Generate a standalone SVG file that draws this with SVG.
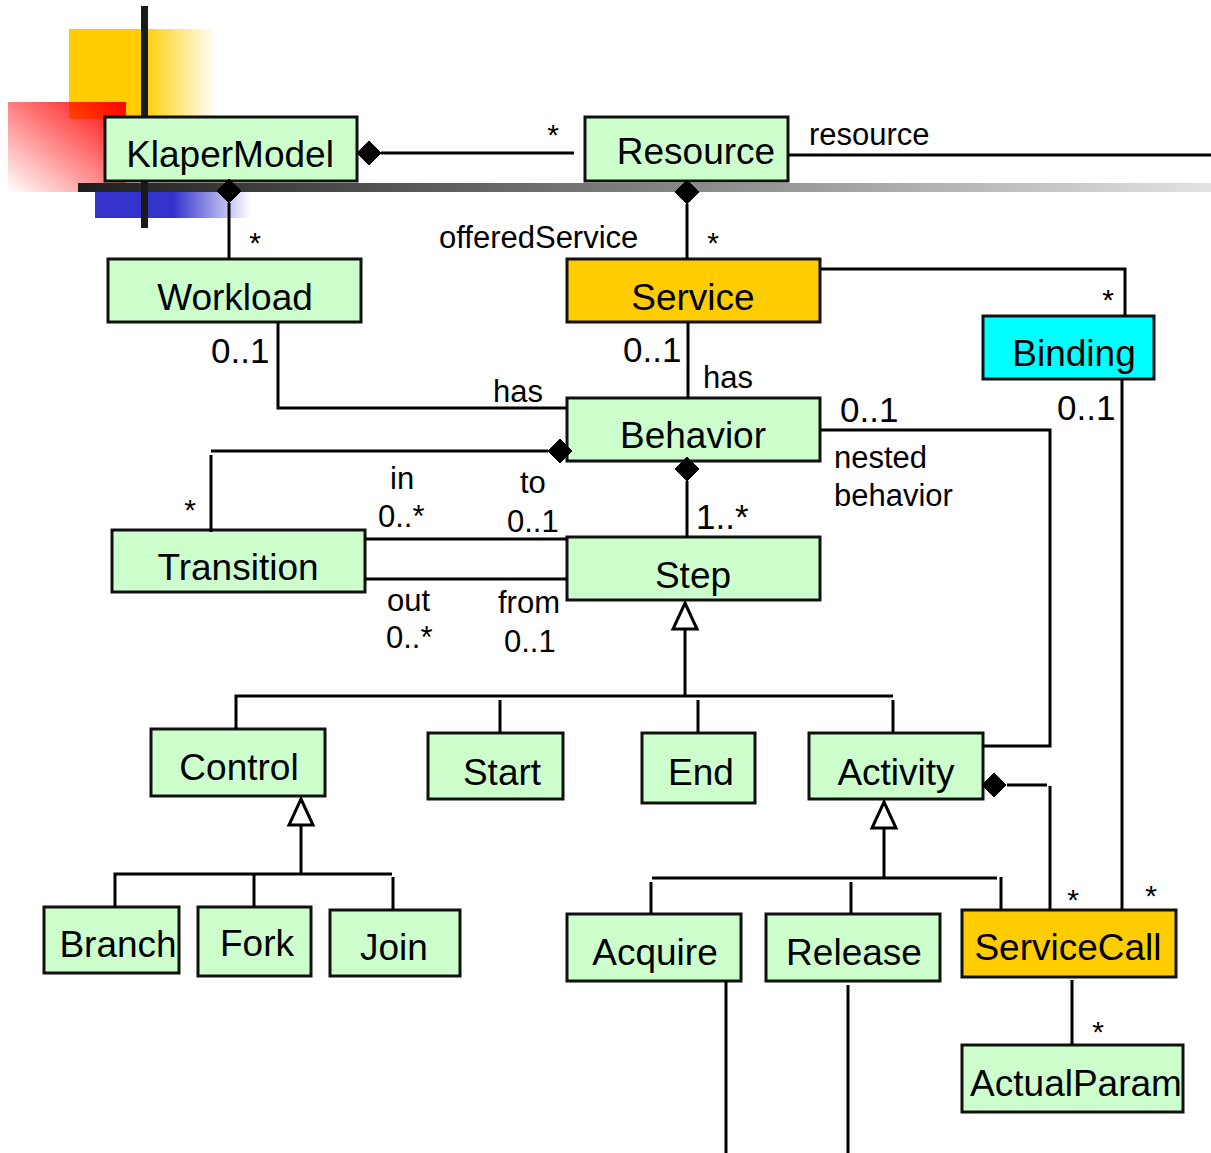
<svg xmlns="http://www.w3.org/2000/svg" width="1211" height="1153" viewBox="0 0 1211 1153">
<defs>
<linearGradient id="gYellow" x1="0" y1="0" x2="1" y2="0">
<stop offset="0" stop-color="#FFCC00"/><stop offset="0.5" stop-color="#FFCC00"/><stop offset="1" stop-color="#FFCC00" stop-opacity="0"/>
</linearGradient>
<linearGradient id="gRed" x1="1" y1="0" x2="0" y2="1">
<stop offset="0" stop-color="#FF0000"/><stop offset="1" stop-color="#FF0000" stop-opacity="0"/>
</linearGradient>
<linearGradient id="gBlue" x1="0" y1="0" x2="1" y2="0">
<stop offset="0" stop-color="#3333CC"/><stop offset="0.5" stop-color="#3333CC"/><stop offset="1" stop-color="#3333CC" stop-opacity="0"/>
</linearGradient>
<linearGradient id="gBar" x1="0" y1="0" x2="1" y2="0">
<stop offset="0" stop-color="#1e1e1e"/><stop offset="1" stop-color="#e2e2e2"/>
</linearGradient>
</defs>
<style>
.n rect{fill:#CCFFCC;stroke:#111;stroke-width:3}
.n.o rect{fill:#FFCC00}
.n.c rect{fill:#00FFFF}
.n text{font-family:"Liberation Sans",Arial,sans-serif;font-size:37px;text-anchor:middle;fill:#000}
.e path,.e line{fill:none;stroke:#000;stroke-width:3}
.e .d{fill:#000;stroke:#000;stroke-width:1}
.e .t{fill:#fff;stroke:#000;stroke-width:3}
.l{font-family:"Liberation Sans",Arial,sans-serif;font-size:31px;fill:#000}
.m{font-family:"Liberation Sans",Arial,sans-serif;font-size:35px;fill:#000}
.s{font-family:"Liberation Sans",Arial,sans-serif;font-size:30px;fill:#000;text-anchor:middle}
</style>
<rect width="1211" height="1153" fill="#fff"/>
<g id="decoration">
<rect x="69" y="29" width="147" height="90" fill="url(#gYellow)"/>
<rect x="8" y="102" width="118" height="90" fill="url(#gRed)"/>
<rect x="95" y="183" width="156" height="35" fill="url(#gBlue)"/>
<rect x="78" y="183" width="1133" height="9" fill="url(#gBar)"/>
<rect x="141" y="6" width="7" height="222" fill="#1a1a1a"/>
</g>
<g id="nodes">
<g id="KlaperModel" class="n"><rect x="105" y="117" width="252" height="64"/><text x="230" y="167">KlaperModel</text></g>
<g id="Resource" class="n"><rect x="585" y="117" width="203" height="64"/><text x="696" y="164">Resource</text></g>
<g id="Workload" class="n"><rect x="108" y="259" width="253" height="63"/><text x="235" y="310">Workload</text></g>
<g id="Service" class="n o"><rect x="567" y="259" width="253" height="63"/><text x="693" y="310">Service</text></g>
<g id="Binding" class="n c"><rect x="983" y="316" width="171" height="63"/><text x="1074" y="366">Binding</text></g>
<g id="Behavior" class="n"><rect x="567" y="398" width="253" height="63"/><text x="693" y="448">Behavior</text></g>
<g id="Transition" class="n"><rect x="112" y="530" width="253" height="62"/><text x="238" y="580">Transition</text></g>
<g id="Step" class="n"><rect x="567" y="537" width="253" height="63"/><text x="693" y="588">Step</text></g>
<g id="Control" class="n"><rect x="151" y="729" width="174" height="67"/><text x="239" y="780">Control</text></g>
<g id="Start" class="n"><rect x="428" y="733" width="135" height="66"/><text x="502" y="785">Start</text></g>
<g id="End" class="n"><rect x="642" y="733" width="113" height="70"/><text x="701" y="785">End</text></g>
<g id="Activity" class="n"><rect x="809" y="733" width="174" height="66"/><text x="896" y="785">Activity</text></g>
<g id="Branch" class="n"><rect x="44" y="907" width="135" height="66"/><text x="118" y="957">Branch</text></g>
<g id="Fork" class="n"><rect x="198" y="907" width="113" height="69"/><text x="257" y="956">Fork</text></g>
<g id="Join" class="n"><rect x="330" y="910" width="130" height="66"/><text x="394" y="960">Join</text></g>
<g id="Acquire" class="n"><rect x="567" y="914" width="174" height="67"/><text x="655" y="965">Acquire</text></g>
<g id="Release" class="n"><rect x="766" y="914" width="174" height="67"/><text x="854" y="965">Release</text></g>
<g id="ServiceCall" class="n o"><rect x="962" y="910" width="214" height="67"/><text x="1068" y="960">ServiceCall</text></g>
<g id="ActualParam" class="n"><rect x="962" y="1045" width="221" height="67"/><text x="1076" y="1096">ActualParam</text></g>
</g>
<g id="connectors" class="e">
<line x1="381" y1="153" x2="574" y2="153"/>
<path class="d" d="M357 153 L369 141 L381 153 L369 165 Z"/>
<line x1="788" y1="155" x2="1211" y2="155"/>
<line x1="229" y1="203" x2="229" y2="259"/>
<path class="d" d="M229 179 L241 191 L229 203 L217 191 Z"/>
<line x1="687" y1="204" x2="687" y2="259"/>
<path class="d" d="M687 180 L699 192 L687 204 L675 192 Z"/>
<path d="M820 269 L1125 269 L1125 316"/>
<path d="M278 322 L278 408 L567 408"/>
<line x1="688" y1="322" x2="688" y2="398"/>
<path d="M211 451 L548 451"/>
<line x1="211" y1="455" x2="211" y2="532"/>
<path class="d" d="M548 451 L560 439 L572 451 L560 463 Z"/>
<line x1="687" y1="481" x2="687" y2="537"/>
<path class="d" d="M687 457 L699 469 L687 481 L675 469 Z"/>
<path d="M820 430 L1050 430 L1050 746 L983 746"/>
<line x1="1122" y1="379" x2="1122" y2="910"/>
<line x1="365" y1="539" x2="567" y2="539"/>
<line x1="365" y1="579" x2="567" y2="579"/>
<line x1="685" y1="629" x2="685" y2="696"/>
<path class="t" d="M685 603 L697 629 L673 629 Z"/>
<path d="M236 729 L236 696 L893 696"/>
<line x1="500" y1="700" x2="500" y2="733"/>
<line x1="698" y1="700" x2="698" y2="733"/>
<line x1="893" y1="700" x2="893" y2="733"/>
<line x1="301" y1="825" x2="301" y2="874"/>
<path class="t" d="M301 799 L313 825 L289 825 Z"/>
<path d="M115 907 L115 874 L392 874"/>
<line x1="254" y1="874" x2="254" y2="907"/>
<line x1="393" y1="877" x2="393" y2="910"/>
<line x1="884" y1="828" x2="884" y2="878"/>
<path class="t" d="M884 802 L896 828 L872 828 Z"/>
<line x1="652" y1="878" x2="997" y2="878"/>
<line x1="651" y1="882" x2="651" y2="914"/>
<line x1="851" y1="882" x2="851" y2="914"/>
<line x1="1001" y1="877" x2="1001" y2="910"/>
<line x1="1007" y1="785" x2="1047" y2="785"/>
<path class="d" d="M982 785 L994 773 L1006 785 L994 797 Z"/>
<line x1="1050" y1="786" x2="1050" y2="910"/>
<line x1="1072" y1="980" x2="1072" y2="1045"/>
<line x1="726" y1="981" x2="726" y2="1153"/>
<line x1="848" y1="985" x2="848" y2="1153"/>
</g>
<g id="labels">
<text class="s" x="553" y="145">*</text>
<text class="l" x="809" y="145">resource</text>
<text class="s" x="255" y="253">*</text>
<text class="l" x="439" y="248">offeredService</text>
<text class="s" x="713" y="253">*</text>
<text class="s" x="1108" y="310">*</text>
<text class="m" x="211" y="363">0..1</text>
<text class="m" x="623" y="362">0..1</text>
<text class="l" x="493" y="402">has</text>
<text class="l" x="703" y="388">has</text>
<text class="m" x="840" y="422">0..1</text>
<text class="m" x="1057" y="420">0..1</text>
<text class="l" x="834" y="468">nested</text>
<text class="l" x="834" y="506">behavior</text>
<text class="s" x="190" y="520">*</text>
<text class="l" x="390" y="489">in</text>
<text class="l" x="378" y="527">0..*</text>
<text class="l" x="520" y="493">to</text>
<text class="l" x="507" y="532">0..1</text>
<text class="m" x="696" y="529">1..*</text>
<text class="l" x="387" y="611">out</text>
<text class="l" x="386" y="648">0..*</text>
<text class="l" x="498" y="613">from</text>
<text class="l" x="504" y="652">0..1</text>
<text class="s" x="1073" y="910">*</text>
<text class="s" x="1151" y="906">*</text>
<text class="s" x="1098" y="1042">*</text>
</g>
</svg>
